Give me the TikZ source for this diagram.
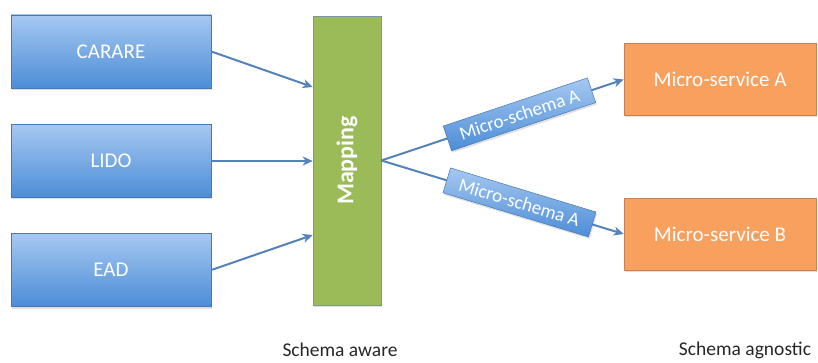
\documentclass[tikz,border=0pt]{standalone}
\usepackage{fontspec}
\setmainfont{Carlito}
\usetikzlibrary{arrows.meta,shadows}

\definecolor{boxtop}{RGB}{166,200,241}
\definecolor{boxbot}{RGB}{76,141,215}
\definecolor{boxline}{RGB}{70,120,180}
\definecolor{mapgreen}{RGB}{155,187,89}
\definecolor{mapline}{RGB}{120,150,170}
\definecolor{svcorange}{RGB}{248,160,94}
\definecolor{svcline}{RGB}{200,130,80}
\definecolor{arrowblue}{RGB}{84,130,186}

\tikzset{
  boxshadow/.style={drop shadow={shadow xshift=1pt,shadow yshift=-2pt,opacity=0.25}},
  srcbox/.style={draw=boxline,line width=0.6pt,top color=boxtop,bottom color=boxbot,
    minimum width=200pt,minimum height=73pt,text=white,font=\fontsize{21}{24}\selectfont,boxshadow},
  mapbox/.style={draw=mapline,line width=0.6pt,fill=mapgreen,minimum width=68pt,minimum height=289pt,boxshadow},
  svcbox/.style={draw=svcline,line width=0.6pt,fill=svcorange,minimum width=192pt,minimum height=72pt,
    text=white,font=\fontsize{21}{24}\selectfont,boxshadow},
  schemabox/.style={draw=boxline,line width=0.5pt,top color=boxtop,bottom color=boxbot,
    minimum width=152pt,minimum height=26pt,inner sep=1pt,text=white,font=\fontsize{19}{21}\selectfont,boxshadow},
  conn/.style={draw=arrowblue,line width=2pt,-{Stealth[length=10pt,width=9pt,inset=3pt]}},
  caption/.style={font=\fontsize{19.5}{22}\selectfont,text=black!85}
}

\begin{document}
\begin{tikzpicture}[x=1pt,y=-1pt]
  \useasboundingbox (0,0) rectangle (818,363);

  % sources
  \node[srcbox] (carare) at (111,51.5) {CARARE};
  \node[srcbox] (lido) at (111,161) {LIDO};
  \node[srcbox] (ead) at (111,270) {EAD};

  % mapping
  \node[mapbox] (map) at (347,160.5) {};
  \node[rotate=90,text=white,font=\fontsize{24}{26}\selectfont\bfseries] (maplabel) at (map.center) {Mapping};

  % services
  \node[svcbox] (svca) at (720,79.5) {Micro-service A};
  \node[svcbox] (svcb) at (720,234) {Micro-service B};

  % inputs
  \draw[conn] (carare.east) -- ([yshift=73.5pt]map.west);
  \draw[conn] (lido.east) -- (map.west |- lido.east);
  \draw[conn] (ead.east) -- ([yshift=-74.5pt]map.west);

  % outputs
  \draw[conn] (map.east) -- (svca.west) node[schemabox,sloped,pos=0.57] (schemaa) {Micro-schema A};
  \draw[conn] (map.east) -- (svcb.west) node[schemabox,sloped,pos=0.57] (schemab) {Micro-schema A};

  % captions
  \node[caption] (aware) at (340,350) {Schema aware};
  \node[caption] (agnostic) at (745,350) {Schema agnostic};
\end{tikzpicture}
\end{document}
